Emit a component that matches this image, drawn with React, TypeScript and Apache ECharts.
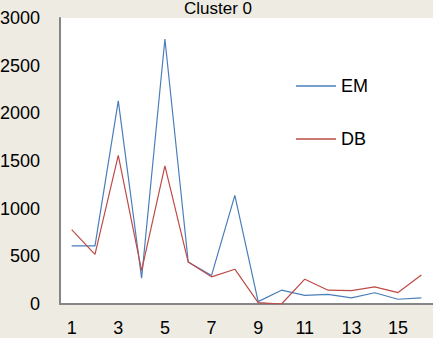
import React, { useEffect, useRef } from "react";
import * as echarts from "echarts";

const categories = ["1","2","3","4","5","6","7","8","9","10","11","12","13","14","15","16"];
const emValues = [610, 610, 2130, 270, 2780, 440, 300, 1140, 25, 145, 90, 100, 65, 118, 50, 65];
const dbValues = [780, 520, 1560, 350, 1450, 440, 285, 365, 15, 0, 260, 145, 140, 180, 120, 305];
const titleText = "Cluster 0";

export default function App() {
  const ref = useRef<HTMLDivElement>(null);
  useEffect(() => {
    const chart = echarts.init(ref.current!, null, { renderer: "svg" });
    const font = "Liberation Sans";
    chart.setOption({
      animation: false,
      backgroundColor: "#EEEBE3",
      title: {
        text: titleText,
        left: 218,
        textAlign: "center",
        top: 0,
        padding: 0,
        textStyle: { fontFamily: font, fontSize: 17, fontWeight: "normal", color: "#000", lineHeight: 17 },
      },
      legend: {
        orient: "vertical",
        left: 296,
        top: 77,
        padding: 0,
        itemGap: 35,
        itemWidth: 40,
        itemHeight: 1.5,
        icon: "rect",
        textStyle: { fontFamily: font, fontSize: 18, color: "#000", lineHeight: 18 },
        data: ["EM", "DB"],
      },
      grid: {
        left: 60,
        top: 18,
        right: 0,
        bottom: 34,
        containLabel: false,
        outerBoundsMode: "none",
        show: true,
        backgroundColor: "#FFFFFF",
        borderWidth: 0,
      },
      xAxis: {
        type: "category",
        data: categories,
        boundaryGap: true,
        axisLine: { lineStyle: { color: "#868686", width: 2 } },
        axisTick: { show: false },
        axisLabel: { interval: 1, margin: 15, fontFamily: font, fontSize: 18, color: "#000" },
        splitLine: { show: false },
      },
      yAxis: {
        type: "value",
        min: 0,
        max: 3000,
        interval: 500,
        axisLine: { show: true, lineStyle: { color: "#868686", width: 2 } },
        axisTick: { show: false },
        axisLabel: { margin: 20, fontFamily: font, fontSize: 18, color: "#000", formatter: (v: number) => String(v) },
        splitLine: { show: false },
      },
      series: [
        {
          name: "EM",
          type: "line",
          data: emValues,
          symbol: "none",
          lineStyle: { color: "#4A7EBB", width: 1.2 },
          itemStyle: { color: "#4A7EBB" },
        },
        {
          name: "DB",
          type: "line",
          data: dbValues,
          symbol: "none",
          lineStyle: { color: "#BE4B48", width: 1.2 },
          itemStyle: { color: "#BE4B48" },
        },
      ],
    });
    return () => chart.dispose();
  }, []);
  return <div ref={ref} style={{ width: 433, height: 338, position: "absolute", left: 0, top: 0 }} />;
}
